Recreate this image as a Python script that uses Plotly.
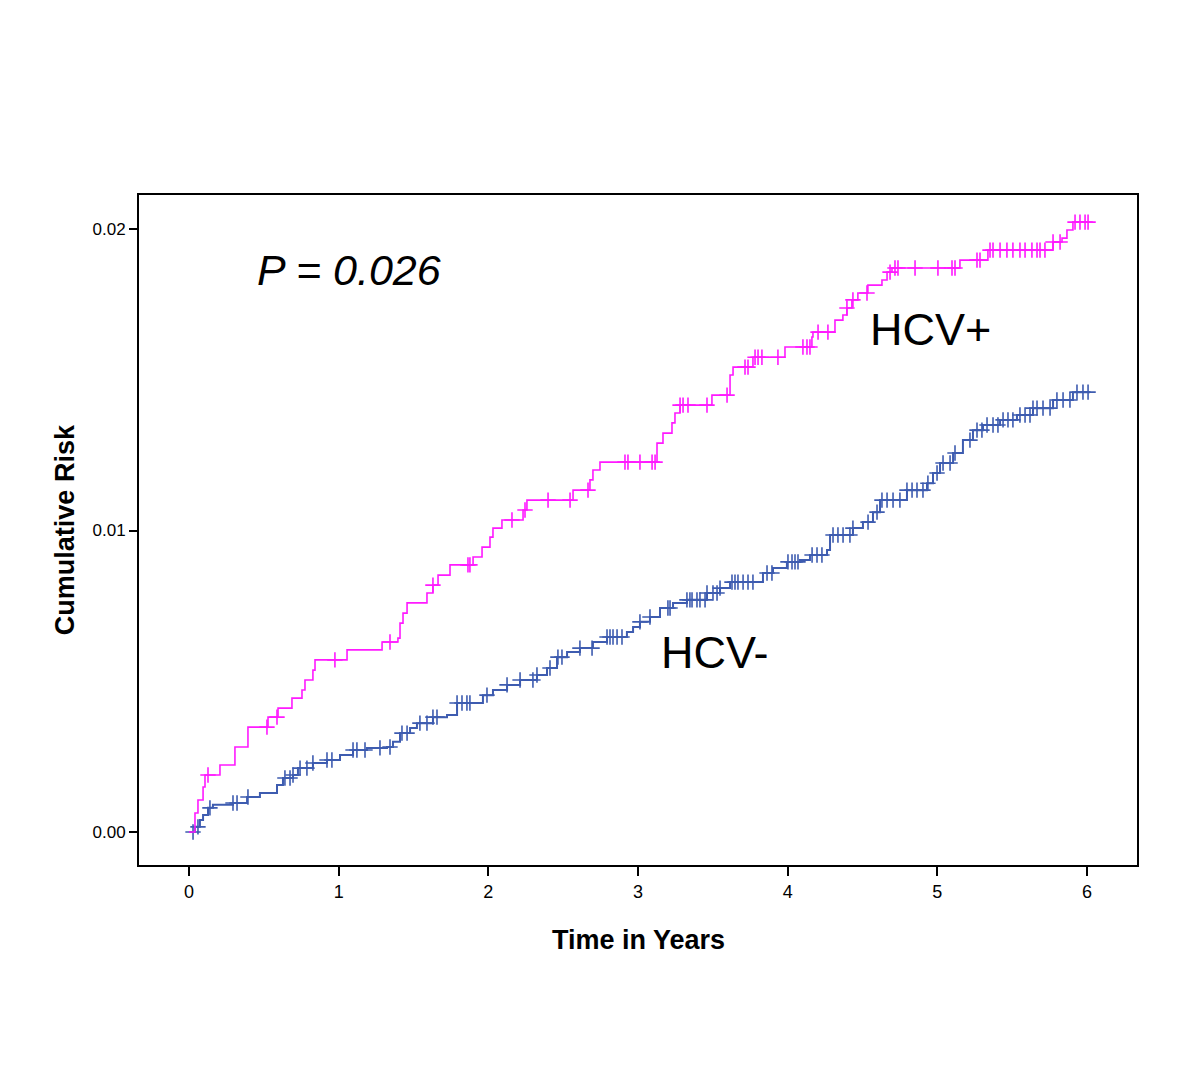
import numpy as np
import plotly.graph_objects as go

# ---- Data ----
pos_time = [0, 0.040, 0.060, 0.094, 0.107, 0.207, 0.307, 0.394, 0.528, 0.595, 0.688, 0.755, 0.775,
            0.828, 0.842, 1.056, 1.290, 1.396, 1.410, 1.430, 1.457, 1.590, 1.630, 1.664, 1.744,
            1.898, 1.958, 2.011, 2.031, 2.091, 2.232, 2.258, 2.566, 2.679, 2.699, 2.746, 3.127,
            3.167, 3.227, 3.247, 3.281, 3.494, 3.615, 3.635, 3.768, 3.982, 4.162, 4.169, 4.316,
            4.369, 4.396, 4.429, 4.469, 4.536, 4.630, 4.664, 4.697, 5.151, 5.338, 5.773, 5.833,
            5.866, 5.906]
pos_risk = [0, 0.00063, 0.00106, 0.00149, 0.00189, 0.00222, 0.00282, 0.00348, 0.00381, 0.00411,
            0.00444, 0.00471, 0.00504, 0.00537, 0.00571, 0.00604, 0.00630, 0.00643, 0.00693,
            0.00726, 0.00760, 0.00793, 0.00819, 0.00852, 0.00886, 0.00912, 0.00945, 0.00978,
            0.01008, 0.01035, 0.01068, 0.01101, 0.01134, 0.01168, 0.01201, 0.01227, 0.01290,
            0.01323, 0.01357, 0.01390, 0.01416, 0.01449, 0.01516, 0.01542, 0.01575, 0.01609,
            0.01642, 0.01658, 0.01698, 0.01715, 0.01738, 0.01765, 0.01788, 0.01814, 0.01831,
            0.01857, 0.01871, 0.01897, 0.01930, 0.01957, 0.01970, 0.01997, 0.02023]
pos_end = 6.02
pos_censor = [0.127, 0.521, 0.588, 0.975, 1.343, 1.630, 1.864, 1.877, 2.158, 2.245, 2.399, 2.546,
              2.666, 2.913, 2.933, 3.013, 3.094, 3.114, 3.281, 3.301, 3.334, 3.461, 3.595, 3.715,
              3.735, 3.782, 3.802, 3.828, 3.935, 4.102, 4.129, 4.149, 4.203, 4.269, 4.396, 4.436,
              4.530, 4.684, 4.717, 4.737, 4.851, 5.004, 5.098, 5.118, 5.265, 5.285, 5.352, 5.372,
              5.419, 5.465, 5.505, 5.552, 5.586, 5.632, 5.666, 5.686, 5.719, 5.773, 5.820, 5.920,
              5.953, 5.987, 6.007]

neg_time = [0, 0.040, 0.073, 0.094, 0.127, 0.160, 0.294, 0.388, 0.474, 0.588, 0.628, 0.695, 0.728,
            0.828, 0.922, 1.009, 1.096, 1.189, 1.323, 1.363, 1.410, 1.477, 1.523, 1.630, 1.724,
            1.791, 1.964, 2.031, 2.125, 2.212, 2.325, 2.392, 2.459, 2.526, 2.612, 2.699, 2.793,
            2.926, 2.967, 3.013, 3.080, 3.147, 3.234, 3.327, 3.461, 3.548, 3.615, 3.835, 3.902,
            3.995, 4.082, 4.149, 4.263, 4.283, 4.436, 4.503, 4.570, 4.617, 4.797, 4.931, 4.971,
            5.018, 5.105, 5.171, 5.238, 5.305, 5.419, 5.532, 5.639, 5.773, 5.906]
neg_risk = [0, 0.00017, 0.00040, 0.00056, 0.00080, 0.00090, 0.00096, 0.00116, 0.00129, 0.00156,
            0.00179, 0.00189, 0.00212, 0.00229, 0.00239, 0.00255, 0.00272, 0.00279, 0.00282,
            0.00299, 0.00328, 0.00345, 0.00361, 0.00381, 0.00388, 0.00428, 0.00454, 0.00471,
            0.00488, 0.00504, 0.00521, 0.00544, 0.00580, 0.00597, 0.00610, 0.00630, 0.00647,
            0.00663, 0.00680, 0.00697, 0.00713, 0.00743, 0.00760, 0.00770, 0.00793, 0.00809,
            0.00829, 0.00859, 0.00876, 0.00896, 0.00902, 0.00919, 0.00935, 0.00985, 0.01008,
            0.01028, 0.01061, 0.01101, 0.01134, 0.01157, 0.01191, 0.01224, 0.01257, 0.01300,
            0.01333, 0.01350, 0.01367, 0.01383, 0.01406, 0.01433, 0.01459]
neg_end = 6.02
neg_censor = [0.027, 0.060, 0.140, 0.294, 0.321, 0.394, 0.641, 0.675, 0.695, 0.742, 0.788, 0.828,
              0.922, 0.955, 1.096, 1.122, 1.176, 1.276, 1.343, 1.423, 1.457, 1.543, 1.590, 1.630,
              1.657, 1.791, 1.824, 1.857, 1.877, 1.991, 2.125, 2.212, 2.298, 2.325, 2.412, 2.465,
              2.492, 2.612, 2.693, 2.793, 2.813, 2.833, 2.860, 2.893, 3.013, 3.080, 3.200, 3.214,
              3.327, 3.347, 3.361, 3.394, 3.414, 3.448, 3.461, 3.501, 3.528, 3.548, 3.628, 3.648,
              3.668, 3.702, 3.735, 3.768, 3.862, 3.895, 4.002, 4.029, 4.049, 4.069, 4.163, 4.196,
              4.229, 4.303, 4.336, 4.370, 4.416, 4.436, 4.537, 4.597, 4.630, 4.664, 4.704, 4.750,
              4.797, 4.831, 4.864, 4.904, 4.937, 4.998, 5.038, 5.085, 5.118, 5.218, 5.265, 5.298,
              5.332, 5.372, 5.405, 5.439, 5.472, 5.505, 5.552, 5.586, 5.619, 5.639, 5.666, 5.706,
              5.753, 5.799, 5.840, 5.886, 5.933, 5.973, 6.007]

x_ticks = [0, 1, 2, 3, 4, 5, 6]
y_ticks = [0.00, 0.01, 0.02]
y_tick_labels = ["0.00", "0.01", "0.02"]

PINK = "#ff1aff"
BLUE = "#3e5cb0"


def step_value(times, risks, t):
    idx = np.searchsorted(np.array(times), np.array(t), side="right") - 1
    return np.array(risks)[idx]


fig = go.Figure()

for times, risks, end, censor, color, lw in [
    (neg_time, neg_risk, neg_end, neg_censor, BLUE, 2.0),
    (pos_time, pos_risk, pos_end, pos_censor, PINK, 1.6),
]:
    fig.add_trace(go.Scatter(
        x=list(times) + [end], y=list(risks) + [risks[-1]],
        mode="lines", line=dict(color=color, width=lw, shape="hv"),
        showlegend=False, hoverinfo="skip"))
    fig.add_trace(go.Scatter(
        x=censor, y=step_value(times, risks, censor),
        mode="markers",
        marker=dict(symbol="cross-thin", size=11, color=color,
                    line=dict(color=color, width=1.6)),
        showlegend=False, hoverinfo="skip"))

FONT = "Liberation Sans Narrow, Liberation Sans, Arial, sans-serif"
SANS = "Liberation Sans, Arial, sans-serif"

fig.update_layout(
    width=1200, height=1076,
    paper_bgcolor="white", plot_bgcolor="white",
    margin=dict(l=131, r=71, t=187, b=219),
    xaxis=dict(range=[-0.334, 6.334], tickvals=x_ticks, ticktext=[str(v) for v in x_ticks],
               showgrid=False, zeroline=False, showline=True, linecolor="black", linewidth=2,
               mirror=True, ticks="outside", ticklen=9, tickwidth=1.5, tickcolor="black",
               tickfont=dict(family=FONT, size=18, color="black")),
    yaxis=dict(range=[-0.001095, 0.02113], tickvals=y_ticks, ticktext=y_tick_labels,
               showgrid=False, zeroline=False, showline=True, linecolor="black", linewidth=2,
               mirror=True, ticks="outside", ticklen=8, tickwidth=1.5, tickcolor="black",
               tickfont=dict(family=FONT, size=17, color="black")),
    annotations=[
        dict(text="<b>Time in Years</b>", xref="paper", yref="paper", x=0.5, y=-0.112,
             showarrow=False, font=dict(family=FONT, size=27, color="black"),
             xanchor="center", yanchor="middle"),
        dict(text="<b>Cumulative Risk</b>", xref="paper", yref="paper", x=-0.074, y=0.5,
             showarrow=False, font=dict(family=FONT, size=27, color="black"), textangle=-90,
             xanchor="center", yanchor="middle"),
        dict(text="<i>P = 0.026</i>", xref="x", yref="y", x=0.44, y=0.01865,
             showarrow=False, font=dict(family=SANS, size=43, color="black"),
             xanchor="left", yanchor="middle"),
        dict(text="HCV+", xref="x", yref="y", x=4.54, y=0.01666,
             showarrow=False, font=dict(family=SANS, size=45, color="black"),
             xanchor="left", yanchor="middle"),
        dict(text="HCV-", xref="x", yref="y", x=3.14, y=0.00596,
             showarrow=False, font=dict(family=SANS, size=45, color="black"),
             xanchor="left", yanchor="middle"),
    ],
)

fig.write_html("out.html")
